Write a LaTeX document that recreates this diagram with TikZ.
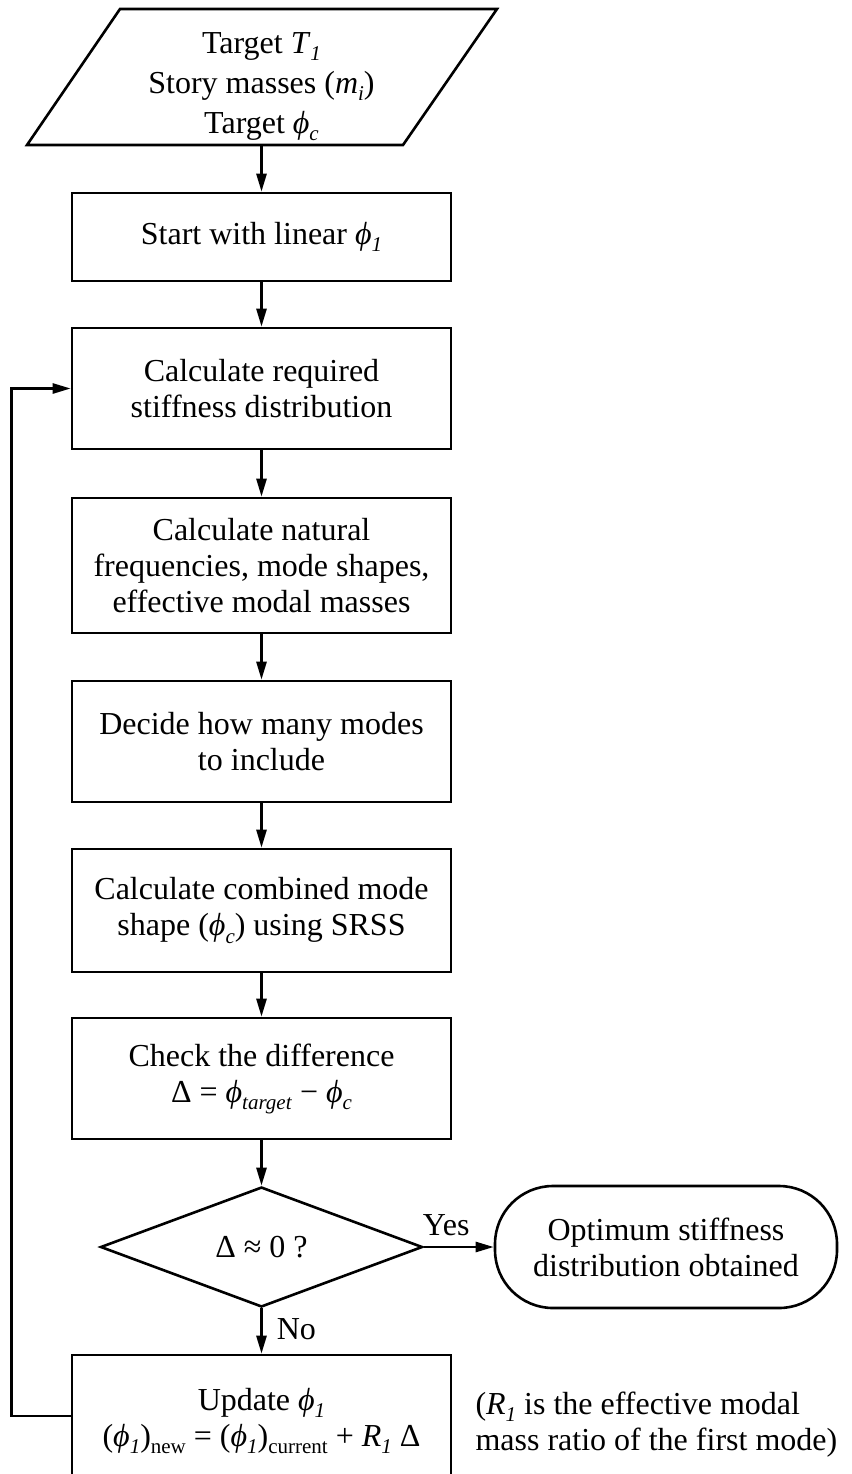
\documentclass[tikz,border=0pt]{standalone}
\usepackage{fontspec}
\setmainfont{Liberation Serif}
\usetikzlibrary{arrows.meta,shapes.geometric}
\newcommand{\sbs}[1]{\raisebox{-0.22em}{\fontsize{21}{21}\selectfont #1}}
\newcommand{\phv}{\textit{ϕ}}
\begin{document}
\begin{tikzpicture}[x=1pt,y=-1pt,
  every node/.style={font=\fontsize{32}{36}\selectfont},
  lw/.style={line width=2.6pt},
  box/.style={draw, lw, minimum width=379pt, align=center, inner sep=0pt},
  conn/.style={lw, -{Triangle[length=18pt,width=10pt]}},
]
\path[use as bounding box] (0,0) rectangle (851,1474);
\clip (0,0) rectangle (851,1474);

% input parallelogram
\draw[lw, line join=miter] (120,9) -- (497,9) -- (403,145) -- (27,145) -- cycle;
\coordinate (inb) at (261.5,145);
\node[align=center, font=\fontsize{32}{40}\selectfont] (in) at (261.5,87) {Target \textit{T}\sbs{\textit{1}}\\Story masses (\textit{m}\sbs{\textit{i}})\\Target \phv\sbs{\textit{c}}};

\node[box, minimum height=88pt]  (b2) at (261.5,237)   {Start with linear \phv\sbs{\textit{1}}};
\node[box, minimum height=121pt] (b3) at (261.5,388.5) {Calculate required\\stiffness distribution};
\node[box, minimum height=135pt] (b4) at (261.5,565.5) {Calculate natural\\frequencies, mode shapes,\\effective modal masses};
\node[box, minimum height=121pt] (b5) at (261.5,741.5) {Decide how many modes\\to include};
\node[box, minimum height=123pt] (b6) at (261.5,910.5) {Calculate combined mode\\shape (\phv\sbs{\textit{c}}) using SRSS};
\node[box, minimum height=121pt] (b7) at (261.5,1078.5) {Check the difference\\Δ = \phv\sbs{\textit{target}} − \phv\sbs{\textit{c}}};
\node[draw, lw, diamond, aspect=2.68, minimum width=322pt, minimum height=120pt, inner sep=0pt] (dia) at (261.5,1247) {Δ ≈ 0 ?};
\node[draw, lw, rounded corners=58pt, minimum width=342pt, minimum height=122pt, align=center, inner sep=0pt] (term) at (666,1247) {Optimum stiffness\\distribution obtained};
\node[box, minimum height=132pt] (b8) at (261.5,1421) {Update \phv\sbs{\textit{1}}\\(\phv\sbs{\textit{1}})\sbs{new} = (\phv\sbs{\textit{1}})\sbs{current} + \textit{R}\sbs{\textit{1}} Δ};
\node[anchor=west, align=left] (note) at (472,1425) {(\textit{R}\sbs{\textit{1}} is the effective modal\\mass ratio of the first mode)};

\draw[conn] (inb) -- (b2.north);
\draw[conn] (b2) -- (b3);
\draw[conn] (b3) -- (b4);
\draw[conn] (b4) -- (b5);
\draw[conn] (b5) -- (b6);
\draw[conn] (b6) -- (b7);
\draw[conn] (b7) -- (dia);
\draw[conn] (dia.east) -- node[pos=0.32, above, inner sep=10pt] (yes) {Yes} (term.west);
\draw[conn] (dia.south) -- node[pos=0.45, right, inner sep=14pt] (no) {No} (b8.north);
\draw[conn] ([yshift=5pt]b8.west) -- ++(-59,0) |- (b3.west);
\end{tikzpicture}
\end{document}
